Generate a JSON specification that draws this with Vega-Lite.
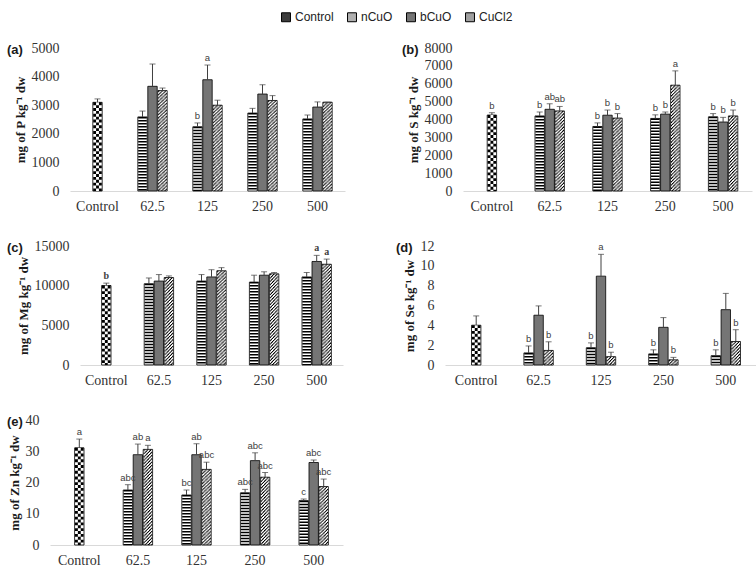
{
"$schema": "https://vega.github.io/schema/vega-lite/v6.json",
"padding": {"top": 11, "left": 7, "right": 2, "bottom": 2},
"datasets": {"d": [
{"p":"a","g":"Control","t":"Control","v":3100,"hi":3220,"lab":""},
{"p":"a","g":"62.5","t":"nCuO","v":2590,"hi":2795,"lab":""},
{"p":"a","g":"62.5","t":"bCuO","v":3660,"hi":4440,"lab":""},
{"p":"a","g":"62.5","t":"CuCl2","v":3510,"hi":3600,"lab":""},
{"p":"a","g":"125","t":"nCuO","v":2245,"hi":2380,"lab":"b"},
{"p":"a","g":"125","t":"bCuO","v":3890,"hi":4405,"lab":"a"},
{"p":"a","g":"125","t":"CuCl2","v":3000,"hi":3175,"lab":""},
{"p":"a","g":"250","t":"nCuO","v":2725,"hi":2890,"lab":""},
{"p":"a","g":"250","t":"bCuO","v":3390,"hi":3715,"lab":""},
{"p":"a","g":"250","t":"CuCl2","v":3165,"hi":3335,"lab":""},
{"p":"a","g":"500","t":"nCuO","v":2520,"hi":2655,"lab":""},
{"p":"a","g":"500","t":"bCuO","v":2935,"hi":3115,"lab":""},
{"p":"a","g":"500","t":"CuCl2","v":3105,"hi":3105,"lab":""},
{"p":"b","g":"Control","t":"Control","v":4250,"hi":4380,"lab":"b"},
{"p":"b","g":"62.5","t":"nCuO","v":4200,"hi":4420,"lab":"b"},
{"p":"b","g":"62.5","t":"bCuO","v":4570,"hi":4880,"lab":"ab"},
{"p":"b","g":"62.5","t":"CuCl2","v":4480,"hi":4730,"lab":"ab"},
{"p":"b","g":"125","t":"nCuO","v":3610,"hi":3810,"lab":"b"},
{"p":"b","g":"125","t":"bCuO","v":4240,"hi":4530,"lab":"b"},
{"p":"b","g":"125","t":"CuCl2","v":4080,"hi":4330,"lab":"b"},
{"p":"b","g":"250","t":"nCuO","v":4060,"hi":4260,"lab":"b"},
{"p":"b","g":"250","t":"bCuO","v":4300,"hi":4420,"lab":"b"},
{"p":"b","g":"250","t":"CuCl2","v":5920,"hi":6720,"lab":"a"},
{"p":"b","g":"500","t":"nCuO","v":4150,"hi":4330,"lab":"b"},
{"p":"b","g":"500","t":"bCuO","v":3860,"hi":4120,"lab":"b"},
{"p":"b","g":"500","t":"CuCl2","v":4200,"hi":4530,"lab":"b"},
{"p":"c","g":"Control","t":"Control","v":10020,"hi":10320,"lab":"b"},
{"p":"c","g":"62.5","t":"nCuO","v":10240,"hi":10970,"lab":""},
{"p":"c","g":"62.5","t":"bCuO","v":10580,"hi":11400,"lab":""},
{"p":"c","g":"62.5","t":"CuCl2","v":11020,"hi":11230,"lab":""},
{"p":"c","g":"125","t":"nCuO","v":10580,"hi":11400,"lab":""},
{"p":"c","g":"125","t":"bCuO","v":11100,"hi":12010,"lab":""},
{"p":"c","g":"125","t":"CuCl2","v":11880,"hi":12270,"lab":""},
{"p":"c","g":"250","t":"nCuO","v":10450,"hi":11320,"lab":""},
{"p":"c","g":"250","t":"bCuO","v":11320,"hi":11750,"lab":""},
{"p":"c","g":"250","t":"CuCl2","v":11490,"hi":11660,"lab":""},
{"p":"c","g":"500","t":"nCuO","v":11100,"hi":11660,"lab":""},
{"p":"c","g":"500","t":"bCuO","v":13050,"hi":13820,"lab":"a"},
{"p":"c","g":"500","t":"CuCl2","v":12700,"hi":13350,"lab":"a"},
{"p":"d","g":"Control","t":"Control","v":4.01,"hi":4.95,"lab":""},
{"p":"d","g":"62.5","t":"nCuO","v":1.22,"hi":1.92,"lab":"b"},
{"p":"d","g":"62.5","t":"bCuO","v":5.02,"hi":5.96,"lab":""},
{"p":"d","g":"62.5","t":"CuCl2","v":1.47,"hi":2.34,"lab":"b"},
{"p":"d","g":"125","t":"nCuO","v":1.74,"hi":2.23,"lab":"b"},
{"p":"d","g":"125","t":"bCuO","v":8.96,"hi":11.16,"lab":"a"},
{"p":"d","g":"125","t":"CuCl2","v":0.84,"hi":1.29,"lab":"b"},
{"p":"d","g":"250","t":"nCuO","v":1.12,"hi":1.53,"lab":"b"},
{"p":"d","g":"250","t":"bCuO","v":3.8,"hi":4.78,"lab":""},
{"p":"d","g":"250","t":"CuCl2","v":0.52,"hi":0.77,"lab":"b"},
{"p":"d","g":"500","t":"nCuO","v":0.94,"hi":1.53,"lab":"b"},
{"p":"d","g":"500","t":"bCuO","v":5.58,"hi":7.22,"lab":""},
{"p":"d","g":"500","t":"CuCl2","v":2.37,"hi":3.56,"lab":"b"},
{"p":"e","g":"Control","t":"Control","v":31.1,"hi":33.9,"lab":"a"},
{"p":"e","g":"62.5","t":"nCuO","v":17.6,"hi":19.3,"lab":"abc"},
{"p":"e","g":"62.5","t":"bCuO","v":28.9,"hi":32.3,"lab":"ab"},
{"p":"e","g":"62.5","t":"CuCl2","v":30.6,"hi":31.9,"lab":"a"},
{"p":"e","g":"125","t":"nCuO","v":16.0,"hi":17.6,"lab":"bc"},
{"p":"e","g":"125","t":"bCuO","v":28.9,"hi":32.4,"lab":"ab"},
{"p":"e","g":"125","t":"CuCl2","v":24.2,"hi":26.5,"lab":"abc"},
{"p":"e","g":"250","t":"nCuO","v":16.7,"hi":17.8,"lab":"abc"},
{"p":"e","g":"250","t":"bCuO","v":27.0,"hi":29.5,"lab":"abc"},
{"p":"e","g":"250","t":"CuCl2","v":21.7,"hi":23.2,"lab":"abc"},
{"p":"e","g":"500","t":"nCuO","v":14.2,"hi":14.7,"lab":"c"},
{"p":"e","g":"500","t":"bCuO","v":26.4,"hi":27.2,"lab":"abc"},
{"p":"e","g":"500","t":"CuCl2","v":18.7,"hi":21.1,"lab":"abc"}
]},
"data": {"name": "d"},
"spacing": 26,
"resolve": {"scale": {"xOffset": "independent"}},
"vconcat": [
{"hconcat": [
{"width": 295, "height": 143, "title": {"text": "(a)", "dx": -43, "dy": 20},
 "transform": [{"filter": "datum.p == 'a'"}],
 "encoding": {"x": {"field": "g", "type": "nominal", "sort": ["Control","62.5","125","250","500"], "scale": {"range": [20, 295], "paddingInner": 0.45455, "paddingOuter": 0.22727}, "axis": {"title": null}},
  "y": {"field": "v", "type": "quantitative", "scale": {"domain": [0, 5000], "nice": false}, "axis": {"title": "mg of P kg⁻¹ dw", "values": [0,1000,2000,3000,4000,5000], "format": "d", "offset": -20}}},
 "layer": [
  {"mark": {"type": "point", "shape": "square", "filled": true, "opacity": 0, "stroke": "#000", "strokeWidth": 1}, "encoding": {"color": {"field": "t", "type": "nominal", "scale": {"domain": ["Control","nCuO","bCuO","CuCl2"], "range": ["#3c3c3c","#b0b0b0","#757575","#a0a0a0"]}, "legend": {"title": null, "orient": "none", "legendX": 230, "legendY": -37, "direction": "horizontal", "symbolType": "square", "symbolSize": 80, "symbolOpacity": 1, "symbolStrokeColor": "#000000", "symbolStrokeWidth": 1, "labelFont": "Liberation Sans", "labelFontSize": 12, "labelColor": "#222222", "labelOffset": 3, "columnPadding": 11}}}},
  {"transform": [{"filter": "datum.t != 'Control'"}], "mark": {"type": "bar", "stroke": "#000", "strokeWidth": 0.8}, "encoding": {"xOffset": {"field": "t", "type": "nominal", "scale": {"domain": ["nCuO","bCuO","CuCl2"], "paddingInner": 0.06, "paddingOuter": 0.03}}, "fill": {"field": "t", "type": "nominal", "scale": {"domain": ["Control","nCuO","bCuO","CuCl2"], "range": ["#ffffff","#ffffff","#757575","#ffffff"]}, "legend": null}}},
  {"transform": [{"filter": "datum.t == 'Control'"}], "mark": {"type": "bar", "width": 9.4, "stroke": "#000", "strokeWidth": 0.8}, "encoding": {"fill": {"field": "t", "type": "nominal", "scale": {"domain": ["Control","nCuO","bCuO","CuCl2"], "range": ["#ffffff","#ffffff","#757575","#ffffff"]}, "legend": null}}},
  {"transform": [{"filter": "datum.t == 'nCuO'"}], "mark": {"type": "rule", "strokeWidth": 8.6, "strokeDash": [1.5,1.5], "strokeCap": "butt", "color": "#000"}, "encoding": {"xOffset": {"field": "t", "type": "nominal", "scale": {"domain": ["nCuO","bCuO","CuCl2"], "paddingInner": 0.06, "paddingOuter": 0.03}}, "y2": {"datum": 0}}},
  {"transform": [{"filter": "datum.t == 'Control'"}], "mark": {"type": "rule", "strokeWidth": 8.6, "strokeDash": [2.87,2.87], "strokeCap": "butt", "color": "#000"}, "encoding": {"y2": {"datum": 0}}},
  {"transform": [{"filter": "datum.t == 'Control'"}], "mark": {"type": "rule", "strokeWidth": 2.87, "strokeCap": "butt", "color": "#000"}, "encoding": {"y2": {"datum": 0}}},
  {"transform": [{"filter": "datum.t == 'Control'"}], "mark": {"type": "rule", "strokeWidth": 2.87, "strokeDash": [2.87,2.87], "strokeCap": "butt", "color": "#fff"}, "encoding": {"y2": {"datum": 0}}},
  {"transform": [{"filter": "datum.t == 'CuCl2'"}], "mark": {"type": "rule", "strokeWidth": 1.1, "strokeDash": [1.4,1.9], "strokeDashOffset": 0, "strokeCap": "butt", "color": "#000"}, "encoding": {"x": {"field": "g", "type": "nominal", "sort": ["Control","62.5","125","250","500"], "bandPosition": 0.70792}, "y2": {"datum": 0}}},
  {"transform": [{"filter": "datum.t == 'CuCl2'"}], "mark": {"type": "rule", "strokeWidth": 1.1, "strokeDash": [1.4,1.9], "strokeDashOffset": 1.075, "strokeCap": "butt", "color": "#000"}, "encoding": {"x": {"field": "g", "type": "nominal", "sort": ["Control","62.5","125","250","500"], "bandPosition": 0.74375}, "y2": {"datum": 0}}},
  {"transform": [{"filter": "datum.t == 'CuCl2'"}], "mark": {"type": "rule", "strokeWidth": 1.1, "strokeDash": [1.4,1.9], "strokeDashOffset": 2.15, "strokeCap": "butt", "color": "#000"}, "encoding": {"x": {"field": "g", "type": "nominal", "sort": ["Control","62.5","125","250","500"], "bandPosition": 0.77958}, "y2": {"datum": 0}}},
  {"transform": [{"filter": "datum.t == 'CuCl2'"}], "mark": {"type": "rule", "strokeWidth": 1.1, "strokeDash": [1.4,1.9], "strokeDashOffset": 3.225, "strokeCap": "butt", "color": "#000"}, "encoding": {"x": {"field": "g", "type": "nominal", "sort": ["Control","62.5","125","250","500"], "bandPosition": 0.81542}, "y2": {"datum": 0}}},
  {"transform": [{"filter": "datum.t == 'CuCl2'"}], "mark": {"type": "rule", "strokeWidth": 1.1, "strokeDash": [1.4,1.9], "strokeDashOffset": 4.3, "strokeCap": "butt", "color": "#000"}, "encoding": {"x": {"field": "g", "type": "nominal", "sort": ["Control","62.5","125","250","500"], "bandPosition": 0.85125}, "y2": {"datum": 0}}},
  {"transform": [{"filter": "datum.t == 'CuCl2'"}], "mark": {"type": "rule", "strokeWidth": 1.1, "strokeDash": [1.4,1.9], "strokeDashOffset": 5.375, "strokeCap": "butt", "color": "#000"}, "encoding": {"x": {"field": "g", "type": "nominal", "sort": ["Control","62.5","125","250","500"], "bandPosition": 0.88708}, "y2": {"datum": 0}}},
  {"transform": [{"filter": "datum.t == 'CuCl2'"}], "mark": {"type": "rule", "strokeWidth": 1.1, "strokeDash": [1.4,1.9], "strokeDashOffset": 6.45, "strokeCap": "butt", "color": "#000"}, "encoding": {"x": {"field": "g", "type": "nominal", "sort": ["Control","62.5","125","250","500"], "bandPosition": 0.92292}, "y2": {"datum": 0}}},
  {"transform": [{"filter": "datum.t == 'CuCl2'"}], "mark": {"type": "rule", "strokeWidth": 1.1, "strokeDash": [1.4,1.9], "strokeDashOffset": 7.525, "strokeCap": "butt", "color": "#000"}, "encoding": {"x": {"field": "g", "type": "nominal", "sort": ["Control","62.5","125","250","500"], "bandPosition": 0.95875}, "y2": {"datum": 0}}},
  {"transform": [{"filter": "datum.t != 'Control'"}], "mark": {"type": "rule", "color": "#404040", "strokeWidth": 1}, "encoding": {"xOffset": {"field": "t", "type": "nominal", "scale": {"domain": ["nCuO","bCuO","CuCl2"], "paddingInner": 0.06, "paddingOuter": 0.03}}, "y2": {"field": "hi"}}},
  {"transform": [{"filter": "datum.t != 'Control'"}], "mark": {"type": "tick", "color": "#404040", "thickness": 1, "size": 6}, "encoding": {"xOffset": {"field": "t", "type": "nominal", "scale": {"domain": ["nCuO","bCuO","CuCl2"], "paddingInner": 0.06, "paddingOuter": 0.03}}, "y": {"field": "hi", "type": "quantitative"}}},
  {"transform": [{"filter": "datum.t != 'Control'"}], "mark": {"type": "text", "baseline": "bottom", "dy": -2, "fontSize": 9.5, "font": "Liberation Sans", "color": "#404040"}, "encoding": {"xOffset": {"field": "t", "type": "nominal", "scale": {"domain": ["nCuO","bCuO","CuCl2"], "paddingInner": 0.06, "paddingOuter": 0.03}}, "y": {"field": "hi", "type": "quantitative"}, "text": {"field": "lab"}}},
  {"transform": [{"filter": "datum.t == 'Control'"}], "mark": {"type": "rule", "color": "#404040", "strokeWidth": 1}, "encoding": {"y2": {"field": "hi"}}},
  {"transform": [{"filter": "datum.t == 'Control'"}], "mark": {"type": "tick", "color": "#404040", "thickness": 1, "size": 6}, "encoding": {"y": {"field": "hi", "type": "quantitative"}}},
  {"transform": [{"filter": "datum.t == 'Control'"}], "mark": {"type": "text", "baseline": "bottom", "dy": -2, "fontSize": 9.5, "font": "Liberation Sans", "color": "#404040"}, "encoding": {"y": {"field": "hi", "type": "quantitative"}, "text": {"field": "lab"}}}
 ]},
{"width": 289, "height": 143, "title": {"text": "(b)", "dx": -61, "dy": 20},
 "transform": [{"filter": "datum.p == 'b'"}],
 "encoding": {"x": {"field": "g", "type": "nominal", "sort": ["Control","62.5","125","250","500"], "scale": {"paddingInner": 0.48097, "paddingOuter": 0.24048}, "axis": {"title": null}},
  "y": {"field": "v", "type": "quantitative", "scale": {"domain": [0, 8000], "nice": false}, "axis": {"title": "mg of S kg⁻¹ dw", "values": [0,1000,2000,3000,4000,5000,6000,7000,8000], "format": "d"}}},
 "layer": [
  {"transform": [{"filter": "datum.t != 'Control'"}], "mark": {"type": "bar", "stroke": "#000", "strokeWidth": 0.8}, "encoding": {"xOffset": {"field": "t", "type": "nominal", "scale": {"domain": ["nCuO","bCuO","CuCl2"], "paddingInner": 0.06, "paddingOuter": 0.03}}, "fill": {"field": "t", "type": "nominal", "scale": {"domain": ["Control","nCuO","bCuO","CuCl2"], "range": ["#ffffff","#ffffff","#757575","#ffffff"]}, "legend": null}}},
  {"transform": [{"filter": "datum.t == 'Control'"}], "mark": {"type": "bar", "width": 9.4, "stroke": "#000", "strokeWidth": 0.8}, "encoding": {"fill": {"field": "t", "type": "nominal", "scale": {"domain": ["Control","nCuO","bCuO","CuCl2"], "range": ["#ffffff","#ffffff","#757575","#ffffff"]}, "legend": null}}},
  {"transform": [{"filter": "datum.t == 'nCuO'"}], "mark": {"type": "rule", "strokeWidth": 8.6, "strokeDash": [1.5,1.5], "strokeCap": "butt", "color": "#000"}, "encoding": {"xOffset": {"field": "t", "type": "nominal", "scale": {"domain": ["nCuO","bCuO","CuCl2"], "paddingInner": 0.06, "paddingOuter": 0.03}}, "y2": {"datum": 0}}},
  {"transform": [{"filter": "datum.t == 'Control'"}], "mark": {"type": "rule", "strokeWidth": 8.6, "strokeDash": [2.87,2.87], "strokeCap": "butt", "color": "#000"}, "encoding": {"y2": {"datum": 0}}},
  {"transform": [{"filter": "datum.t == 'Control'"}], "mark": {"type": "rule", "strokeWidth": 2.87, "strokeCap": "butt", "color": "#000"}, "encoding": {"y2": {"datum": 0}}},
  {"transform": [{"filter": "datum.t == 'Control'"}], "mark": {"type": "rule", "strokeWidth": 2.87, "strokeDash": [2.87,2.87], "strokeCap": "butt", "color": "#fff"}, "encoding": {"y2": {"datum": 0}}},
  {"transform": [{"filter": "datum.t == 'CuCl2'"}], "mark": {"type": "rule", "strokeWidth": 1.1, "strokeDash": [1.4,1.9], "strokeDashOffset": 0, "strokeCap": "butt", "color": "#000"}, "encoding": {"x": {"field": "g", "type": "nominal", "sort": ["Control","62.5","125","250","500"], "bandPosition": 0.70792}, "y2": {"datum": 0}}},
  {"transform": [{"filter": "datum.t == 'CuCl2'"}], "mark": {"type": "rule", "strokeWidth": 1.1, "strokeDash": [1.4,1.9], "strokeDashOffset": 1.075, "strokeCap": "butt", "color": "#000"}, "encoding": {"x": {"field": "g", "type": "nominal", "sort": ["Control","62.5","125","250","500"], "bandPosition": 0.74375}, "y2": {"datum": 0}}},
  {"transform": [{"filter": "datum.t == 'CuCl2'"}], "mark": {"type": "rule", "strokeWidth": 1.1, "strokeDash": [1.4,1.9], "strokeDashOffset": 2.15, "strokeCap": "butt", "color": "#000"}, "encoding": {"x": {"field": "g", "type": "nominal", "sort": ["Control","62.5","125","250","500"], "bandPosition": 0.77958}, "y2": {"datum": 0}}},
  {"transform": [{"filter": "datum.t == 'CuCl2'"}], "mark": {"type": "rule", "strokeWidth": 1.1, "strokeDash": [1.4,1.9], "strokeDashOffset": 3.225, "strokeCap": "butt", "color": "#000"}, "encoding": {"x": {"field": "g", "type": "nominal", "sort": ["Control","62.5","125","250","500"], "bandPosition": 0.81542}, "y2": {"datum": 0}}},
  {"transform": [{"filter": "datum.t == 'CuCl2'"}], "mark": {"type": "rule", "strokeWidth": 1.1, "strokeDash": [1.4,1.9], "strokeDashOffset": 4.3, "strokeCap": "butt", "color": "#000"}, "encoding": {"x": {"field": "g", "type": "nominal", "sort": ["Control","62.5","125","250","500"], "bandPosition": 0.85125}, "y2": {"datum": 0}}},
  {"transform": [{"filter": "datum.t == 'CuCl2'"}], "mark": {"type": "rule", "strokeWidth": 1.1, "strokeDash": [1.4,1.9], "strokeDashOffset": 5.375, "strokeCap": "butt", "color": "#000"}, "encoding": {"x": {"field": "g", "type": "nominal", "sort": ["Control","62.5","125","250","500"], "bandPosition": 0.88708}, "y2": {"datum": 0}}},
  {"transform": [{"filter": "datum.t == 'CuCl2'"}], "mark": {"type": "rule", "strokeWidth": 1.1, "strokeDash": [1.4,1.9], "strokeDashOffset": 6.45, "strokeCap": "butt", "color": "#000"}, "encoding": {"x": {"field": "g", "type": "nominal", "sort": ["Control","62.5","125","250","500"], "bandPosition": 0.92292}, "y2": {"datum": 0}}},
  {"transform": [{"filter": "datum.t == 'CuCl2'"}], "mark": {"type": "rule", "strokeWidth": 1.1, "strokeDash": [1.4,1.9], "strokeDashOffset": 7.525, "strokeCap": "butt", "color": "#000"}, "encoding": {"x": {"field": "g", "type": "nominal", "sort": ["Control","62.5","125","250","500"], "bandPosition": 0.95875}, "y2": {"datum": 0}}},
  {"transform": [{"filter": "datum.t != 'Control'"}], "mark": {"type": "rule", "color": "#404040", "strokeWidth": 1}, "encoding": {"xOffset": {"field": "t", "type": "nominal", "scale": {"domain": ["nCuO","bCuO","CuCl2"], "paddingInner": 0.06, "paddingOuter": 0.03}}, "y2": {"field": "hi"}}},
  {"transform": [{"filter": "datum.t != 'Control'"}], "mark": {"type": "tick", "color": "#404040", "thickness": 1, "size": 6}, "encoding": {"xOffset": {"field": "t", "type": "nominal", "scale": {"domain": ["nCuO","bCuO","CuCl2"], "paddingInner": 0.06, "paddingOuter": 0.03}}, "y": {"field": "hi", "type": "quantitative"}}},
  {"transform": [{"filter": "datum.t != 'Control'"}], "mark": {"type": "text", "baseline": "bottom", "dy": -2, "fontSize": 9.5, "font": "Liberation Sans", "color": "#404040"}, "encoding": {"xOffset": {"field": "t", "type": "nominal", "scale": {"domain": ["nCuO","bCuO","CuCl2"], "paddingInner": 0.06, "paddingOuter": 0.03}}, "y": {"field": "hi", "type": "quantitative"}, "text": {"field": "lab"}}},
  {"transform": [{"filter": "datum.t == 'Control'"}], "mark": {"type": "rule", "color": "#404040", "strokeWidth": 1}, "encoding": {"y2": {"field": "hi"}}},
  {"transform": [{"filter": "datum.t == 'Control'"}], "mark": {"type": "tick", "color": "#404040", "thickness": 1, "size": 6}, "encoding": {"y": {"field": "hi", "type": "quantitative"}}},
  {"transform": [{"filter": "datum.t == 'Control'"}], "mark": {"type": "text", "baseline": "bottom", "dy": -2, "fontSize": 9.5, "font": "Liberation Sans", "color": "#404040"}, "encoding": {"y": {"field": "hi", "type": "quantitative"}, "text": {"field": "lab"}}}
 ]}
], "spacing": 57, "resolve": {"scale": {"xOffset": "independent"}}},
{"hconcat": [
{"width": 293, "height": 119, "title": {"text": "(c)", "dx": -43, "dy": 20},
 "transform": [{"filter": "datum.p == 'c'"}],
 "encoding": {"x": {"field": "g", "type": "nominal", "sort": ["Control","62.5","125","250","500"], "scale": {"range": [30, 293], "paddingInner": 0.42966, "paddingOuter": 0.21483}, "axis": {"title": null}},
  "y": {"field": "v", "type": "quantitative", "scale": {"domain": [0, 15000], "nice": false}, "axis": {"title": "mg of Mg kg⁻¹ dw", "values": [0,5000,10000,15000], "format": "d", "offset": -30}}},
 "layer": [
  {"transform": [{"filter": "datum.t != 'Control'"}], "mark": {"type": "bar", "stroke": "#000", "strokeWidth": 0.8}, "encoding": {"xOffset": {"field": "t", "type": "nominal", "scale": {"domain": ["nCuO","bCuO","CuCl2"], "paddingInner": 0.06, "paddingOuter": 0.03}}, "fill": {"field": "t", "type": "nominal", "scale": {"domain": ["Control","nCuO","bCuO","CuCl2"], "range": ["#ffffff","#ffffff","#757575","#ffffff"]}, "legend": null}}},
  {"transform": [{"filter": "datum.t == 'Control'"}], "mark": {"type": "bar", "width": 9.4, "stroke": "#000", "strokeWidth": 0.8}, "encoding": {"fill": {"field": "t", "type": "nominal", "scale": {"domain": ["Control","nCuO","bCuO","CuCl2"], "range": ["#ffffff","#ffffff","#757575","#ffffff"]}, "legend": null}}},
  {"transform": [{"filter": "datum.t == 'nCuO'"}], "mark": {"type": "rule", "strokeWidth": 8.6, "strokeDash": [1.5,1.5], "strokeCap": "butt", "color": "#000"}, "encoding": {"xOffset": {"field": "t", "type": "nominal", "scale": {"domain": ["nCuO","bCuO","CuCl2"], "paddingInner": 0.06, "paddingOuter": 0.03}}, "y2": {"datum": 0}}},
  {"transform": [{"filter": "datum.t == 'Control'"}], "mark": {"type": "rule", "strokeWidth": 8.6, "strokeDash": [2.87,2.87], "strokeCap": "butt", "color": "#000"}, "encoding": {"y2": {"datum": 0}}},
  {"transform": [{"filter": "datum.t == 'Control'"}], "mark": {"type": "rule", "strokeWidth": 2.87, "strokeCap": "butt", "color": "#000"}, "encoding": {"y2": {"datum": 0}}},
  {"transform": [{"filter": "datum.t == 'Control'"}], "mark": {"type": "rule", "strokeWidth": 2.87, "strokeDash": [2.87,2.87], "strokeCap": "butt", "color": "#fff"}, "encoding": {"y2": {"datum": 0}}},
  {"transform": [{"filter": "datum.t == 'CuCl2'"}], "mark": {"type": "rule", "strokeWidth": 1.1, "strokeDash": [1.4,1.9], "strokeDashOffset": 0, "strokeCap": "butt", "color": "#000"}, "encoding": {"x": {"field": "g", "type": "nominal", "sort": ["Control","62.5","125","250","500"], "bandPosition": 0.70792}, "y2": {"datum": 0}}},
  {"transform": [{"filter": "datum.t == 'CuCl2'"}], "mark": {"type": "rule", "strokeWidth": 1.1, "strokeDash": [1.4,1.9], "strokeDashOffset": 1.075, "strokeCap": "butt", "color": "#000"}, "encoding": {"x": {"field": "g", "type": "nominal", "sort": ["Control","62.5","125","250","500"], "bandPosition": 0.74375}, "y2": {"datum": 0}}},
  {"transform": [{"filter": "datum.t == 'CuCl2'"}], "mark": {"type": "rule", "strokeWidth": 1.1, "strokeDash": [1.4,1.9], "strokeDashOffset": 2.15, "strokeCap": "butt", "color": "#000"}, "encoding": {"x": {"field": "g", "type": "nominal", "sort": ["Control","62.5","125","250","500"], "bandPosition": 0.77958}, "y2": {"datum": 0}}},
  {"transform": [{"filter": "datum.t == 'CuCl2'"}], "mark": {"type": "rule", "strokeWidth": 1.1, "strokeDash": [1.4,1.9], "strokeDashOffset": 3.225, "strokeCap": "butt", "color": "#000"}, "encoding": {"x": {"field": "g", "type": "nominal", "sort": ["Control","62.5","125","250","500"], "bandPosition": 0.81542}, "y2": {"datum": 0}}},
  {"transform": [{"filter": "datum.t == 'CuCl2'"}], "mark": {"type": "rule", "strokeWidth": 1.1, "strokeDash": [1.4,1.9], "strokeDashOffset": 4.3, "strokeCap": "butt", "color": "#000"}, "encoding": {"x": {"field": "g", "type": "nominal", "sort": ["Control","62.5","125","250","500"], "bandPosition": 0.85125}, "y2": {"datum": 0}}},
  {"transform": [{"filter": "datum.t == 'CuCl2'"}], "mark": {"type": "rule", "strokeWidth": 1.1, "strokeDash": [1.4,1.9], "strokeDashOffset": 5.375, "strokeCap": "butt", "color": "#000"}, "encoding": {"x": {"field": "g", "type": "nominal", "sort": ["Control","62.5","125","250","500"], "bandPosition": 0.88708}, "y2": {"datum": 0}}},
  {"transform": [{"filter": "datum.t == 'CuCl2'"}], "mark": {"type": "rule", "strokeWidth": 1.1, "strokeDash": [1.4,1.9], "strokeDashOffset": 6.45, "strokeCap": "butt", "color": "#000"}, "encoding": {"x": {"field": "g", "type": "nominal", "sort": ["Control","62.5","125","250","500"], "bandPosition": 0.92292}, "y2": {"datum": 0}}},
  {"transform": [{"filter": "datum.t == 'CuCl2'"}], "mark": {"type": "rule", "strokeWidth": 1.1, "strokeDash": [1.4,1.9], "strokeDashOffset": 7.525, "strokeCap": "butt", "color": "#000"}, "encoding": {"x": {"field": "g", "type": "nominal", "sort": ["Control","62.5","125","250","500"], "bandPosition": 0.95875}, "y2": {"datum": 0}}},
  {"transform": [{"filter": "datum.t != 'Control'"}], "mark": {"type": "rule", "color": "#404040", "strokeWidth": 1}, "encoding": {"xOffset": {"field": "t", "type": "nominal", "scale": {"domain": ["nCuO","bCuO","CuCl2"], "paddingInner": 0.06, "paddingOuter": 0.03}}, "y2": {"field": "hi"}}},
  {"transform": [{"filter": "datum.t != 'Control'"}], "mark": {"type": "tick", "color": "#404040", "thickness": 1, "size": 6}, "encoding": {"xOffset": {"field": "t", "type": "nominal", "scale": {"domain": ["nCuO","bCuO","CuCl2"], "paddingInner": 0.06, "paddingOuter": 0.03}}, "y": {"field": "hi", "type": "quantitative"}}},
  {"transform": [{"filter": "datum.t != 'Control'"}], "mark": {"type": "text", "baseline": "bottom", "dy": -2, "fontSize": 10, "font": "Liberation Serif", "fontWeight": "bold", "color": "#404040"}, "encoding": {"xOffset": {"field": "t", "type": "nominal", "scale": {"domain": ["nCuO","bCuO","CuCl2"], "paddingInner": 0.06, "paddingOuter": 0.03}}, "y": {"field": "hi", "type": "quantitative"}, "text": {"field": "lab"}}},
  {"transform": [{"filter": "datum.t == 'Control'"}], "mark": {"type": "rule", "color": "#404040", "strokeWidth": 1}, "encoding": {"y2": {"field": "hi"}}},
  {"transform": [{"filter": "datum.t == 'Control'"}], "mark": {"type": "tick", "color": "#404040", "thickness": 1, "size": 6}, "encoding": {"y": {"field": "hi", "type": "quantitative"}}},
  {"transform": [{"filter": "datum.t == 'Control'"}], "mark": {"type": "text", "baseline": "bottom", "dy": -2, "fontSize": 10, "font": "Liberation Serif", "fontWeight": "bold", "color": "#404040"}, "encoding": {"y": {"field": "hi", "type": "quantitative"}, "text": {"field": "lab"}}}
 ]},
{"width": 312, "height": 119, "title": {"text": "(d)", "dx": -49, "dy": 20},
 "transform": [{"filter": "datum.p == 'd'"}],
 "encoding": {"x": {"field": "g", "type": "nominal", "sort": ["Control","62.5","125","250","500"], "scale": {"paddingInner": 0.51923, "paddingOuter": 0.25962}, "axis": {"title": null}},
  "y": {"field": "v", "type": "quantitative", "scale": {"domain": [0, 12], "nice": false}, "axis": {"title": "mg of Se kg⁻¹ dw", "values": [0,2,4,6,8,10,12], "format": "d"}}},
 "layer": [
  {"transform": [{"filter": "datum.t != 'Control'"}], "mark": {"type": "bar", "stroke": "#000", "strokeWidth": 0.8}, "encoding": {"xOffset": {"field": "t", "type": "nominal", "scale": {"domain": ["nCuO","bCuO","CuCl2"], "paddingInner": 0.06, "paddingOuter": 0.03}}, "fill": {"field": "t", "type": "nominal", "scale": {"domain": ["Control","nCuO","bCuO","CuCl2"], "range": ["#ffffff","#ffffff","#757575","#ffffff"]}, "legend": null}}},
  {"transform": [{"filter": "datum.t == 'Control'"}], "mark": {"type": "bar", "width": 9.4, "stroke": "#000", "strokeWidth": 0.8}, "encoding": {"fill": {"field": "t", "type": "nominal", "scale": {"domain": ["Control","nCuO","bCuO","CuCl2"], "range": ["#ffffff","#ffffff","#757575","#ffffff"]}, "legend": null}}},
  {"transform": [{"filter": "datum.t == 'nCuO'"}], "mark": {"type": "rule", "strokeWidth": 8.6, "strokeDash": [1.5,1.5], "strokeCap": "butt", "color": "#000"}, "encoding": {"xOffset": {"field": "t", "type": "nominal", "scale": {"domain": ["nCuO","bCuO","CuCl2"], "paddingInner": 0.06, "paddingOuter": 0.03}}, "y2": {"datum": 0}}},
  {"transform": [{"filter": "datum.t == 'Control'"}], "mark": {"type": "rule", "strokeWidth": 8.6, "strokeDash": [2.87,2.87], "strokeCap": "butt", "color": "#000"}, "encoding": {"y2": {"datum": 0}}},
  {"transform": [{"filter": "datum.t == 'Control'"}], "mark": {"type": "rule", "strokeWidth": 2.87, "strokeCap": "butt", "color": "#000"}, "encoding": {"y2": {"datum": 0}}},
  {"transform": [{"filter": "datum.t == 'Control'"}], "mark": {"type": "rule", "strokeWidth": 2.87, "strokeDash": [2.87,2.87], "strokeCap": "butt", "color": "#fff"}, "encoding": {"y2": {"datum": 0}}},
  {"transform": [{"filter": "datum.t == 'CuCl2'"}], "mark": {"type": "rule", "strokeWidth": 1.1, "strokeDash": [1.4,1.9], "strokeDashOffset": 0, "strokeCap": "butt", "color": "#000"}, "encoding": {"x": {"field": "g", "type": "nominal", "sort": ["Control","62.5","125","250","500"], "bandPosition": 0.70792}, "y2": {"datum": 0}}},
  {"transform": [{"filter": "datum.t == 'CuCl2'"}], "mark": {"type": "rule", "strokeWidth": 1.1, "strokeDash": [1.4,1.9], "strokeDashOffset": 1.075, "strokeCap": "butt", "color": "#000"}, "encoding": {"x": {"field": "g", "type": "nominal", "sort": ["Control","62.5","125","250","500"], "bandPosition": 0.74375}, "y2": {"datum": 0}}},
  {"transform": [{"filter": "datum.t == 'CuCl2'"}], "mark": {"type": "rule", "strokeWidth": 1.1, "strokeDash": [1.4,1.9], "strokeDashOffset": 2.15, "strokeCap": "butt", "color": "#000"}, "encoding": {"x": {"field": "g", "type": "nominal", "sort": ["Control","62.5","125","250","500"], "bandPosition": 0.77958}, "y2": {"datum": 0}}},
  {"transform": [{"filter": "datum.t == 'CuCl2'"}], "mark": {"type": "rule", "strokeWidth": 1.1, "strokeDash": [1.4,1.9], "strokeDashOffset": 3.225, "strokeCap": "butt", "color": "#000"}, "encoding": {"x": {"field": "g", "type": "nominal", "sort": ["Control","62.5","125","250","500"], "bandPosition": 0.81542}, "y2": {"datum": 0}}},
  {"transform": [{"filter": "datum.t == 'CuCl2'"}], "mark": {"type": "rule", "strokeWidth": 1.1, "strokeDash": [1.4,1.9], "strokeDashOffset": 4.3, "strokeCap": "butt", "color": "#000"}, "encoding": {"x": {"field": "g", "type": "nominal", "sort": ["Control","62.5","125","250","500"], "bandPosition": 0.85125}, "y2": {"datum": 0}}},
  {"transform": [{"filter": "datum.t == 'CuCl2'"}], "mark": {"type": "rule", "strokeWidth": 1.1, "strokeDash": [1.4,1.9], "strokeDashOffset": 5.375, "strokeCap": "butt", "color": "#000"}, "encoding": {"x": {"field": "g", "type": "nominal", "sort": ["Control","62.5","125","250","500"], "bandPosition": 0.88708}, "y2": {"datum": 0}}},
  {"transform": [{"filter": "datum.t == 'CuCl2'"}], "mark": {"type": "rule", "strokeWidth": 1.1, "strokeDash": [1.4,1.9], "strokeDashOffset": 6.45, "strokeCap": "butt", "color": "#000"}, "encoding": {"x": {"field": "g", "type": "nominal", "sort": ["Control","62.5","125","250","500"], "bandPosition": 0.92292}, "y2": {"datum": 0}}},
  {"transform": [{"filter": "datum.t == 'CuCl2'"}], "mark": {"type": "rule", "strokeWidth": 1.1, "strokeDash": [1.4,1.9], "strokeDashOffset": 7.525, "strokeCap": "butt", "color": "#000"}, "encoding": {"x": {"field": "g", "type": "nominal", "sort": ["Control","62.5","125","250","500"], "bandPosition": 0.95875}, "y2": {"datum": 0}}},
  {"transform": [{"filter": "datum.t != 'Control'"}], "mark": {"type": "rule", "color": "#404040", "strokeWidth": 1}, "encoding": {"xOffset": {"field": "t", "type": "nominal", "scale": {"domain": ["nCuO","bCuO","CuCl2"], "paddingInner": 0.06, "paddingOuter": 0.03}}, "y2": {"field": "hi"}}},
  {"transform": [{"filter": "datum.t != 'Control'"}], "mark": {"type": "tick", "color": "#404040", "thickness": 1, "size": 6}, "encoding": {"xOffset": {"field": "t", "type": "nominal", "scale": {"domain": ["nCuO","bCuO","CuCl2"], "paddingInner": 0.06, "paddingOuter": 0.03}}, "y": {"field": "hi", "type": "quantitative"}}},
  {"transform": [{"filter": "datum.t != 'Control'"}], "mark": {"type": "text", "baseline": "bottom", "dy": -2, "fontSize": 9.5, "font": "Liberation Sans", "color": "#404040"}, "encoding": {"xOffset": {"field": "t", "type": "nominal", "scale": {"domain": ["nCuO","bCuO","CuCl2"], "paddingInner": 0.06, "paddingOuter": 0.03}}, "y": {"field": "hi", "type": "quantitative"}, "text": {"field": "lab"}}},
  {"transform": [{"filter": "datum.t == 'Control'"}], "mark": {"type": "rule", "color": "#404040", "strokeWidth": 1}, "encoding": {"y2": {"field": "hi"}}},
  {"transform": [{"filter": "datum.t == 'Control'"}], "mark": {"type": "tick", "color": "#404040", "thickness": 1, "size": 6}, "encoding": {"y": {"field": "hi", "type": "quantitative"}}},
  {"transform": [{"filter": "datum.t == 'Control'"}], "mark": {"type": "text", "baseline": "bottom", "dy": -2, "fontSize": 9.5, "font": "Liberation Sans", "color": "#404040"}, "encoding": {"y": {"field": "hi", "type": "quantitative"}, "text": {"field": "lab"}}}
 ]}
], "spacing": 53, "resolve": {"scale": {"xOffset": "independent"}}},
{"hconcat": [
{"width": 293, "height": 125, "title": {"text": "(e)", "dx": -43, "dy": 20},
 "transform": [{"filter": "datum.p == 'e'"}],
 "encoding": {"x": {"field": "g", "type": "nominal", "sort": ["Control","62.5","125","250","500"], "scale": {"paddingInner": 0.48805, "paddingOuter": 0.24403}, "axis": {"title": null}},
  "y": {"field": "v", "type": "quantitative", "scale": {"domain": [0, 40], "nice": false}, "axis": {"title": "mg of Zn kg⁻¹ dw", "values": [0,10,20,30,40], "format": "d"}}},
 "layer": [
  {"transform": [{"filter": "datum.t != 'Control'"}], "mark": {"type": "bar", "stroke": "#000", "strokeWidth": 0.8}, "encoding": {"xOffset": {"field": "t", "type": "nominal", "scale": {"domain": ["nCuO","bCuO","CuCl2"], "paddingInner": 0.06, "paddingOuter": 0.03}}, "fill": {"field": "t", "type": "nominal", "scale": {"domain": ["Control","nCuO","bCuO","CuCl2"], "range": ["#ffffff","#ffffff","#757575","#ffffff"]}, "legend": null}}},
  {"transform": [{"filter": "datum.t == 'Control'"}], "mark": {"type": "bar", "width": 9.4, "stroke": "#000", "strokeWidth": 0.8}, "encoding": {"fill": {"field": "t", "type": "nominal", "scale": {"domain": ["Control","nCuO","bCuO","CuCl2"], "range": ["#ffffff","#ffffff","#757575","#ffffff"]}, "legend": null}}},
  {"transform": [{"filter": "datum.t == 'nCuO'"}], "mark": {"type": "rule", "strokeWidth": 8.6, "strokeDash": [1.5,1.5], "strokeCap": "butt", "color": "#000"}, "encoding": {"xOffset": {"field": "t", "type": "nominal", "scale": {"domain": ["nCuO","bCuO","CuCl2"], "paddingInner": 0.06, "paddingOuter": 0.03}}, "y2": {"datum": 0}}},
  {"transform": [{"filter": "datum.t == 'Control'"}], "mark": {"type": "rule", "strokeWidth": 8.6, "strokeDash": [2.87,2.87], "strokeCap": "butt", "color": "#000"}, "encoding": {"y2": {"datum": 0}}},
  {"transform": [{"filter": "datum.t == 'Control'"}], "mark": {"type": "rule", "strokeWidth": 2.87, "strokeCap": "butt", "color": "#000"}, "encoding": {"y2": {"datum": 0}}},
  {"transform": [{"filter": "datum.t == 'Control'"}], "mark": {"type": "rule", "strokeWidth": 2.87, "strokeDash": [2.87,2.87], "strokeCap": "butt", "color": "#fff"}, "encoding": {"y2": {"datum": 0}}},
  {"transform": [{"filter": "datum.t == 'CuCl2'"}], "mark": {"type": "rule", "strokeWidth": 1.1, "strokeDash": [1.4,1.9], "strokeDashOffset": 0, "strokeCap": "butt", "color": "#000"}, "encoding": {"x": {"field": "g", "type": "nominal", "sort": ["Control","62.5","125","250","500"], "bandPosition": 0.70792}, "y2": {"datum": 0}}},
  {"transform": [{"filter": "datum.t == 'CuCl2'"}], "mark": {"type": "rule", "strokeWidth": 1.1, "strokeDash": [1.4,1.9], "strokeDashOffset": 1.075, "strokeCap": "butt", "color": "#000"}, "encoding": {"x": {"field": "g", "type": "nominal", "sort": ["Control","62.5","125","250","500"], "bandPosition": 0.74375}, "y2": {"datum": 0}}},
  {"transform": [{"filter": "datum.t == 'CuCl2'"}], "mark": {"type": "rule", "strokeWidth": 1.1, "strokeDash": [1.4,1.9], "strokeDashOffset": 2.15, "strokeCap": "butt", "color": "#000"}, "encoding": {"x": {"field": "g", "type": "nominal", "sort": ["Control","62.5","125","250","500"], "bandPosition": 0.77958}, "y2": {"datum": 0}}},
  {"transform": [{"filter": "datum.t == 'CuCl2'"}], "mark": {"type": "rule", "strokeWidth": 1.1, "strokeDash": [1.4,1.9], "strokeDashOffset": 3.225, "strokeCap": "butt", "color": "#000"}, "encoding": {"x": {"field": "g", "type": "nominal", "sort": ["Control","62.5","125","250","500"], "bandPosition": 0.81542}, "y2": {"datum": 0}}},
  {"transform": [{"filter": "datum.t == 'CuCl2'"}], "mark": {"type": "rule", "strokeWidth": 1.1, "strokeDash": [1.4,1.9], "strokeDashOffset": 4.3, "strokeCap": "butt", "color": "#000"}, "encoding": {"x": {"field": "g", "type": "nominal", "sort": ["Control","62.5","125","250","500"], "bandPosition": 0.85125}, "y2": {"datum": 0}}},
  {"transform": [{"filter": "datum.t == 'CuCl2'"}], "mark": {"type": "rule", "strokeWidth": 1.1, "strokeDash": [1.4,1.9], "strokeDashOffset": 5.375, "strokeCap": "butt", "color": "#000"}, "encoding": {"x": {"field": "g", "type": "nominal", "sort": ["Control","62.5","125","250","500"], "bandPosition": 0.88708}, "y2": {"datum": 0}}},
  {"transform": [{"filter": "datum.t == 'CuCl2'"}], "mark": {"type": "rule", "strokeWidth": 1.1, "strokeDash": [1.4,1.9], "strokeDashOffset": 6.45, "strokeCap": "butt", "color": "#000"}, "encoding": {"x": {"field": "g", "type": "nominal", "sort": ["Control","62.5","125","250","500"], "bandPosition": 0.92292}, "y2": {"datum": 0}}},
  {"transform": [{"filter": "datum.t == 'CuCl2'"}], "mark": {"type": "rule", "strokeWidth": 1.1, "strokeDash": [1.4,1.9], "strokeDashOffset": 7.525, "strokeCap": "butt", "color": "#000"}, "encoding": {"x": {"field": "g", "type": "nominal", "sort": ["Control","62.5","125","250","500"], "bandPosition": 0.95875}, "y2": {"datum": 0}}},
  {"transform": [{"filter": "datum.t != 'Control'"}], "mark": {"type": "rule", "color": "#404040", "strokeWidth": 1}, "encoding": {"xOffset": {"field": "t", "type": "nominal", "scale": {"domain": ["nCuO","bCuO","CuCl2"], "paddingInner": 0.06, "paddingOuter": 0.03}}, "y2": {"field": "hi"}}},
  {"transform": [{"filter": "datum.t != 'Control'"}], "mark": {"type": "tick", "color": "#404040", "thickness": 1, "size": 6}, "encoding": {"xOffset": {"field": "t", "type": "nominal", "scale": {"domain": ["nCuO","bCuO","CuCl2"], "paddingInner": 0.06, "paddingOuter": 0.03}}, "y": {"field": "hi", "type": "quantitative"}}},
  {"transform": [{"filter": "datum.t != 'Control'"}], "mark": {"type": "text", "baseline": "bottom", "dy": -2, "fontSize": 9.5, "font": "Liberation Sans", "color": "#404040"}, "encoding": {"xOffset": {"field": "t", "type": "nominal", "scale": {"domain": ["nCuO","bCuO","CuCl2"], "paddingInner": 0.06, "paddingOuter": 0.03}}, "y": {"field": "hi", "type": "quantitative"}, "text": {"field": "lab"}}},
  {"transform": [{"filter": "datum.t == 'Control'"}], "mark": {"type": "rule", "color": "#404040", "strokeWidth": 1}, "encoding": {"y2": {"field": "hi"}}},
  {"transform": [{"filter": "datum.t == 'Control'"}], "mark": {"type": "tick", "color": "#404040", "thickness": 1, "size": 6}, "encoding": {"y": {"field": "hi", "type": "quantitative"}}},
  {"transform": [{"filter": "datum.t == 'Control'"}], "mark": {"type": "text", "baseline": "bottom", "dy": -2, "fontSize": 9.5, "font": "Liberation Sans", "color": "#404040"}, "encoding": {"y": {"field": "hi", "type": "quantitative"}, "text": {"field": "lab"}}}
 ]}
]}
],
"config": {
 "view": {"stroke": null},
 "axis": {"grid": false, "ticks": false, "labelFont": "Liberation Serif", "labelFontSize": 14, "labelColor": "#333333", "titleFont": "Liberation Serif", "titleFontSize": 13, "titleFontWeight": "bold", "titleColor": "#1a1a1a"},
 "axisY": {"domain": false, "labelPadding": 11, "titlePadding": 4},
 "axisX": {"domainColor": "#d9d9d9", "domainWidth": 1, "labelPadding": 8, "labelAngle": 0},
 "title": {"anchor": "start", "frame": "group", "baseline": "middle", "offset": 0, "font": "Liberation Sans", "fontSize": 13, "fontWeight": "bold", "color": "#1a1a1a"}
}
}
